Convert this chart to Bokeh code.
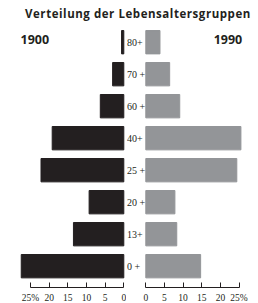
from bokeh.plotting import figure
from bokeh.layouts import column, row
from bokeh.models import Range1d, LinearAxis, FixedTicker, Div, ColumnDataSource
from bokeh.core.properties import value
from bokeh.embed import file_html
from bokeh.resources import INLINE

# ---- data ----
title_text = "Verteilung der Lebensaltersgruppen"
year_left = "1900"
year_right = "1990"
ages = ["0 +", "13+", "20 +", "25 +", "40+", "60 +", "70 +", "80+"]
v1900 = [27.5, 13.5, 9.3, 22.2, 19.2, 6.3, 3.0, 0.6]
v1990 = [14.7, 8.3, 7.8, 24.4, 25.5, 9.1, 6.4, 3.8]
ticks = [0, 5, 10, 15, 20, 25]
tick_labels = {25: "25%"}

DARK = "#231f20"
GREY = "#939598"
pos = list(range(len(ages)))

y_start, y_end = -0.666, 7.553
FIG_H = 281
BH = 0.73


def style(p):
    p.xgrid.visible = False
    p.ygrid.visible = False
    p.outline_line_color = None
    p.background_fill_color = "white"
    p.border_fill_color = "white"
    p.min_border_top = 0
    p.min_border_left = 0
    p.min_border_right = 0
    p.min_border_bottom = 18


def make_axis():
    ax = LinearAxis(ticker=FixedTicker(ticks=ticks), bounds=(0, 25))
    ax.major_label_overrides = tick_labels
    ax.major_tick_in = 5
    ax.major_tick_out = 0
    ax.minor_tick_in = 0
    ax.minor_tick_out = 0
    ax.major_label_standoff = 5
    ax.axis_line_color = DARK
    ax.major_tick_line_color = DARK
    ax.major_label_text_font = "Liberation Sans Narrow"
    ax.major_label_text_font_size = "9.5px"
    ax.major_label_text_color = DARK
    return ax


left = figure(width=126, height=FIG_H, x_range=Range1d(33.06, -0.724),
              y_range=Range1d(y_start, y_end), output_backend="svg",
              toolbar_location=None, x_axis_location=None, y_axis_location=None)
style(left)
left.add_layout(make_axis(), "below")
src_l = ColumnDataSource(dict(y=pos, v=v1900))
left.hbar(y="y", left=0, right="v", height=BH, source=src_l, color=DARK)
left.text(x=[27.7], y=[7.09], text=[year_left], text_align="left",
          text_baseline="middle", text_font=value("Open Sans"),
          text_font_style="bold", text_font_size="12.5px", text_color=DARK)

right = figure(width=124, height=FIG_H, x_range=Range1d(-5.174, 28.07),
               y_range=Range1d(y_start, y_end), output_backend="svg",
               toolbar_location=None, x_axis_location=None, y_axis_location=None)
style(right)
right.add_layout(make_axis(), "below")
src_r = ColumnDataSource(dict(y=pos, v=v1990, lab=ages))
right.hbar(y="y", left=0, right="v", height=BH, source=src_r, color=GREY)
right.text(x=-5.05, y="y", text="lab", source=src_r, text_align="left",
           text_baseline="middle", text_font=value("Liberation Sans Narrow"),
           text_font_size="10px", text_color=DARK)
right.text(x=[25.85], y=[7.09], text=[year_right], text_align="right",
           text_baseline="middle", text_font=value("Open Sans"),
           text_font_style="bold", text_font_size="12.5px", text_color=DARK)

title = Div(text=title_text, width=250, height=14,
            styles={"font-family": "Open Sans", "font-weight": "bold",
                    "font-size": "11.5px", "letter-spacing": "0.55px",
                    "color": DARK, "text-align": "left",
                    "padding-left": "20px", "line-height": "17px",
                    "white-space": "nowrap"})

layout = column(title, row(left, right, spacing=0), spacing=0)

open("out.html", "w").write(file_html(layout, INLINE))
